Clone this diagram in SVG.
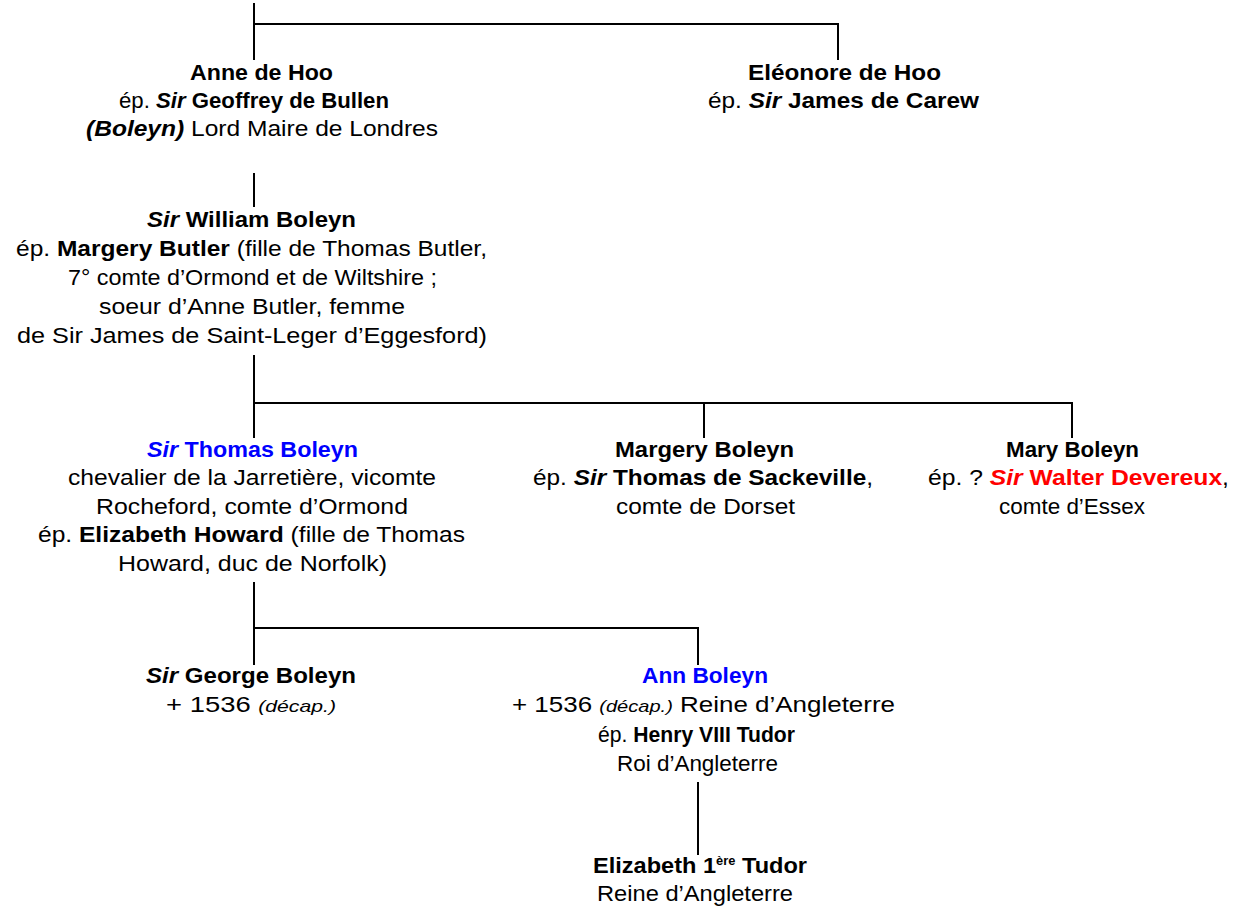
<svg xmlns="http://www.w3.org/2000/svg" width="1243" height="908" viewBox="0 0 1243 908">
<style>
text{font-family:"Liberation Sans",Arial,sans-serif;font-size:22px;fill:#000}
.b{font-weight:bold}
.bi{font-weight:bold;font-style:italic}
.i{font-style:italic;font-size:17px}
.blue{fill:#0000FF}
.red{fill:#FF0000}
.sup{font-size:12px;font-weight:bold}
.conn path{stroke:#000;stroke-width:2;fill:none}
</style>
<rect width="1243" height="908" fill="#fff"/>
<g class="conn" id="connectors">
<path d="M254 3V60"/>
<path d="M254 24H838V60"/>
<path d="M254 173V207"/>
<path d="M254 355V438"/>
<path d="M254 403H1072V438"/>
<path d="M704 403V438"/>
<path d="M254 582V665"/>
<path d="M254 628H698V665"/>
<path d="M698 782V855"/>
</g>
<g id="anne-de-hoo">
<text x="190" y="80" textLength="143" lengthAdjust="spacingAndGlyphs" class="b">Anne de Hoo</text>
<text x="119" y="108" textLength="270" lengthAdjust="spacingAndGlyphs">ép. <tspan class="bi">Sir</tspan> <tspan class="b">Geoffrey de Bullen</tspan></text>
<text x="86" y="136" textLength="352" lengthAdjust="spacingAndGlyphs"><tspan class="bi">(Boleyn)</tspan> Lord Maire de Londres</text>
</g>
<g id="eleonore-de-hoo">
<text x="748" y="80" textLength="193" lengthAdjust="spacingAndGlyphs" class="b">Eléonore de Hoo</text>
<text x="708" y="108" textLength="271" lengthAdjust="spacingAndGlyphs">ép. <tspan class="bi">Sir</tspan> <tspan class="b">James de Carew</tspan></text>
</g>
<g id="william-boleyn">
<text x="147" y="227" textLength="209" lengthAdjust="spacingAndGlyphs"><tspan class="bi">Sir</tspan> <tspan class="b">William Boleyn</tspan></text>
<text x="16" y="256" textLength="471" lengthAdjust="spacingAndGlyphs">ép. <tspan class="b">Margery Butler</tspan> (fille de Thomas Butler,</text>
<text x="68" y="285" textLength="369" lengthAdjust="spacingAndGlyphs">7° comte d’Ormond et de Wiltshire ;</text>
<text x="99" y="314" textLength="306" lengthAdjust="spacingAndGlyphs">soeur d’Anne Butler, femme</text>
<text x="17" y="343" textLength="470" lengthAdjust="spacingAndGlyphs">de Sir James de Saint-Leger d’Eggesford)</text>
</g>
<g id="thomas-boleyn">
<text x="147" y="457" textLength="211" lengthAdjust="spacingAndGlyphs" class="blue"><tspan class="bi">Sir</tspan> <tspan class="b">Thomas Boleyn</tspan></text>
<text x="68" y="485" textLength="368" lengthAdjust="spacingAndGlyphs">chevalier de la Jarretière, vicomte</text>
<text x="96" y="514" textLength="312" lengthAdjust="spacingAndGlyphs">Rocheford, comte d’Ormond</text>
<text x="38" y="542" textLength="427" lengthAdjust="spacingAndGlyphs">ép. <tspan class="b">Elizabeth Howard</tspan> (fille de Thomas</text>
<text x="118" y="571" textLength="269" lengthAdjust="spacingAndGlyphs">Howard, duc de Norfolk)</text>
</g>
<g id="margery-boleyn">
<text x="615" y="457" textLength="179" lengthAdjust="spacingAndGlyphs" class="b">Margery Boleyn</text>
<text x="533" y="485" textLength="340" lengthAdjust="spacingAndGlyphs">ép. <tspan class="bi">Sir</tspan> <tspan class="b">Thomas de Sackeville</tspan>,</text>
<text x="616" y="514" textLength="179" lengthAdjust="spacingAndGlyphs">comte de Dorset</text>
</g>
<g id="mary-boleyn">
<text x="1006" y="457" textLength="133" lengthAdjust="spacingAndGlyphs" class="b">Mary Boleyn</text>
<text x="928" y="485" textLength="301" lengthAdjust="spacingAndGlyphs">ép. ? <tspan class="bi red">Sir</tspan> <tspan class="b red">Walter Devereux</tspan>,</text>
<text x="999" y="514" textLength="146" lengthAdjust="spacingAndGlyphs">comte d’Essex</text>
</g>
<g id="george-boleyn">
<text x="146" y="683" textLength="210" lengthAdjust="spacingAndGlyphs"><tspan class="bi">Sir</tspan> <tspan class="b">George Boleyn</tspan></text>
<text x="166" y="712" textLength="170" lengthAdjust="spacingAndGlyphs">+ 1536 <tspan class="i">(décap.)</tspan></text>
</g>
<g id="ann-boleyn">
<text x="642" y="683" textLength="126" lengthAdjust="spacingAndGlyphs" class="b blue">Ann Boleyn</text>
<text x="512" y="712" textLength="383" lengthAdjust="spacingAndGlyphs">+ 1536 <tspan class="i">(décap.)</tspan> Reine d’Angleterre</text>
<text x="598" y="742" textLength="197" lengthAdjust="spacingAndGlyphs">ép. <tspan class="b">Henry VIII Tudor</tspan></text>
<text x="617" y="771" textLength="161" lengthAdjust="spacingAndGlyphs">Roi d’Angleterre</text>
</g>
<g id="elizabeth-tudor">
<text x="593" y="873" textLength="214" lengthAdjust="spacingAndGlyphs" class="b">Elizabeth 1<tspan class="sup" dy="-8">ère</tspan><tspan dy="8"> Tudor</tspan></text>
<text x="597" y="901" textLength="196" lengthAdjust="spacingAndGlyphs">Reine d’Angleterre</text>
</g>
</svg>
